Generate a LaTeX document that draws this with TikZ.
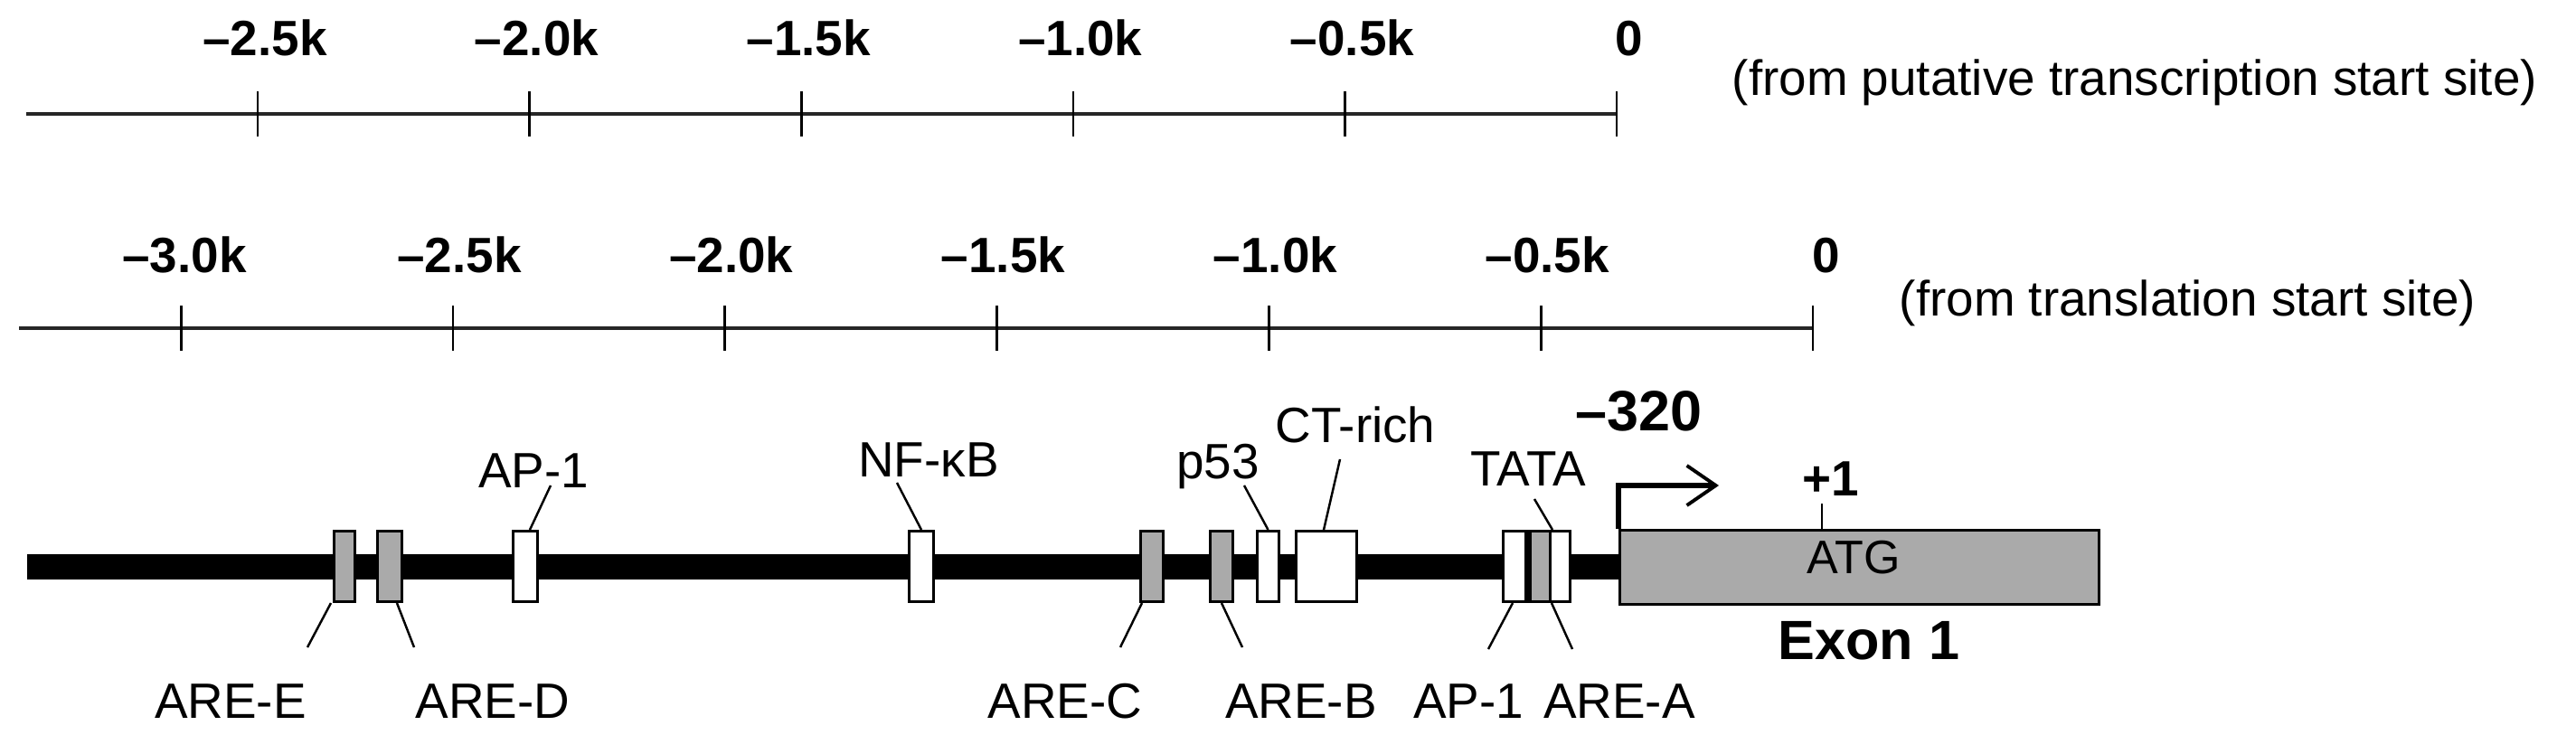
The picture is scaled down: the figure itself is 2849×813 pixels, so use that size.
\documentclass[tikz,border=0pt]{standalone}
\usepackage{fontspec}
\setmainfont{Liberation Sans}
\usetikzlibrary{arrows.meta,calc}
\definecolor{boxgray}{RGB}{170,170,170}
\begin{document}
\begin{tikzpicture}[x=0.01cm,y=-0.01cm,
  scaleline/.style={line width=1.1pt,black!85,line cap=butt},
  tickmark/.style={line width=0.75pt},
  lab/.style={font=\fontsize{15.6pt}{18pt}\selectfont,inner sep=0pt,anchor=base},
  blab/.style={inner sep=0pt,anchor=base,font=\fontsize{15.6pt}{18pt}\selectfont\bfseries},
  desc/.style={font=\fontsize{15.6pt}{18pt}\selectfont,inner sep=0pt,anchor=base west},
  site/.style={draw,line width=0.85pt,minimum height=0.78cm,inner sep=0pt,anchor=north west},
  whitesite/.style={site,fill=white},
  graysite/.style={site,fill=boxgray},
  leader/.style={line width=0.7pt},
  tssarrow/.style={line width=1.5pt,-{Straight Barb[length=0.32cm,width=0.44cm,line width=1.1pt]}}
]
\useasboundingbox (0,0) rectangle (2849,813);

% ---------- scale 1 (transcription start site)
\coordinate (s1a) at (29,126);
\coordinate (s1b) at (1788,126);
\draw[scaleline] (s1a) -- (s1b);
\foreach \xx in {1788,1487.4,1186.8,886.2,585.6,285}
  \draw[tickmark] (\xx,101) -- (\xx,151);
\foreach \xx/\tt [count=\i] in {1495.4/{–0.5k},1194.8/{–1.0k},894.2/{–1.5k},593.6/{–2.0k},293/{–2.5k}}
  \node[blab] (ta\i) at (\xx,62) {\tt};
\node[blab] (ta0) at (1802,62) {0};
\node[desc] (d1) at (1915,106) {(from putative transcription start site)};

% ---------- scale 2 (translation start site)
\coordinate (s2a) at (21,363);
\coordinate (s2b) at (2005,363);
\draw[scaleline] (s2a) -- (s2b);
\foreach \xx in {2005,1704.2,1403.4,1102.6,801.8,501,200.2}
  \draw[tickmark] (\xx,338) -- (\xx,388);
\foreach \xx/\tt [count=\i] in {1711.2/{–0.5k},1410.4/{–1.0k},1109.6/{–1.5k},808.8/{–2.0k},508/{–2.5k},204/{–3.0k}}
  \node[blab] (tb\i) at (\xx,302) {\tt};
\node[blab] (tb0) at (2020,302) {0};
\node[desc] (d2) at (2100,350) {(from translation start site)};

% ---------- promoter
\node[fill=black,minimum width=17.61cm,minimum height=0.28cm,inner sep=0pt,anchor=north west] (bar) at (29,612) {};
\node[graysite,minimum width=0.23cm] (areE) at (368,586) {};
\node[graysite,minimum width=0.27cm] (areD) at (416,586) {};
\node[whitesite,minimum width=0.27cm] (ap1a) at (566,586) {};
\node[whitesite,minimum width=0.27cm] (nfkb) at (1004,586) {};
\node[graysite,minimum width=0.25cm] (areC) at (1260,586) {};
\node[graysite,minimum width=0.25cm] (areB) at (1337,586) {};
\node[whitesite,minimum width=0.24cm] (p53) at (1389,586) {};
\node[whitesite,minimum width=0.67cm] (ctrich) at (1432,586) {};
\node[whitesite,minimum width=0.25cm] (ap1b) at (1661,586) {};
\node[site,fill=black,minimum width=0.05cm] (strip) at (1686,586) {};
\node[graysite,minimum width=0.22cm] (areA) at (1691,586) {};
\node[whitesite,minimum width=0.22cm] (tata) at (1713,586) {};
\node[site,fill=boxgray,minimum width=5.30cm,minimum height=0.82cm] (exon) at (1790,585) {};

% labels above
\node[lab] (lap1a) at (590,540) {AP-1};
\node[lab] (lnfkb) at (1027,528) {NF-κB};
\node[lab] (lp53) at (1347,530) {p53};
\node[lab] (lct) at (1499,490) {CT-rich};
\node[lab] (ltata) at (1690,538) {TATA};
\node[inner sep=0pt,anchor=base,font=\fontsize{17.9pt}{20pt}\selectfont\bfseries] (l320) at (1812,477) {–320};
\node[blab] (lplus) at (2025,549) {+1};
\node[inner sep=0pt,anchor=base,font=\fontsize{14.8pt}{18pt}\selectfont] (latg) at (2050,634) {ATG};
\node[inner sep=0pt,anchor=base,font=\fontsize{17.4pt}{20pt}\selectfont\bfseries] (lexon) at (2067,729) {Exon 1};

% labels below
\node[lab] (lareE) at (255,794) {ARE-E};
\node[lab] (lareD) at (545,794) {ARE-D};
\node[lab] (lareC) at (1178,794) {ARE-C};
\node[lab] (lareB) at (1439,794) {ARE-B};
\node[lab] (lap1b) at (1624,794) {AP-1};
\node[lab] (lareA) at (1791,794) {ARE-A};

% leader ends
\coordinate (eE) at (340,716);
\coordinate (eD) at (458,716);
\coordinate (eAP1a) at (609,537);
\coordinate (eNF) at (992,534);
\coordinate (eC) at (1239,716);
\coordinate (eB) at (1374,716);
\coordinate (eP53) at (1376,537);
\coordinate (eCT) at (1482,508);
\coordinate (eAP1b) at (1646,718);
\coordinate (eA) at (1739,718);
\coordinate (eTATA) at (1697,552);
\coordinate (ePlus) at (2015,557);
\coordinate (tss) at (1901,537);

\draw[leader] ($(areE.south west)+(-2,0)$) -- (eE);
\draw[leader] ($(areD.south east)+(-7,0)$) -- (eD);
\draw[leader] ($(ap1a.north)+(5,0)$) -- (eAP1a);
\draw[leader] (nfkb.north) -- (eNF);
\draw[leader] ($(areC.south west)+(3,0)$) -- (eC);
\draw[leader] (areB.south) -- (eB);
\draw[leader] (p53.north) -- (eP53);
\draw[leader] ($(ctrich.north)+(-3,0)$) -- (eCT);
\draw[leader] ($(ap1b.south)+(-2,0)$) -- (eAP1b);
\draw[leader] (areA.south east) -- (eA);
\draw[leader] ($(tata.north west)+(4,0)$) -- (eTATA);
\draw[leader] ($(exon.north west)+(225,0)$) -- (ePlus);

% transcription start arrow
\draw[tssarrow] (exon.north west) |- (tss);
\end{tikzpicture}
\end{document}
